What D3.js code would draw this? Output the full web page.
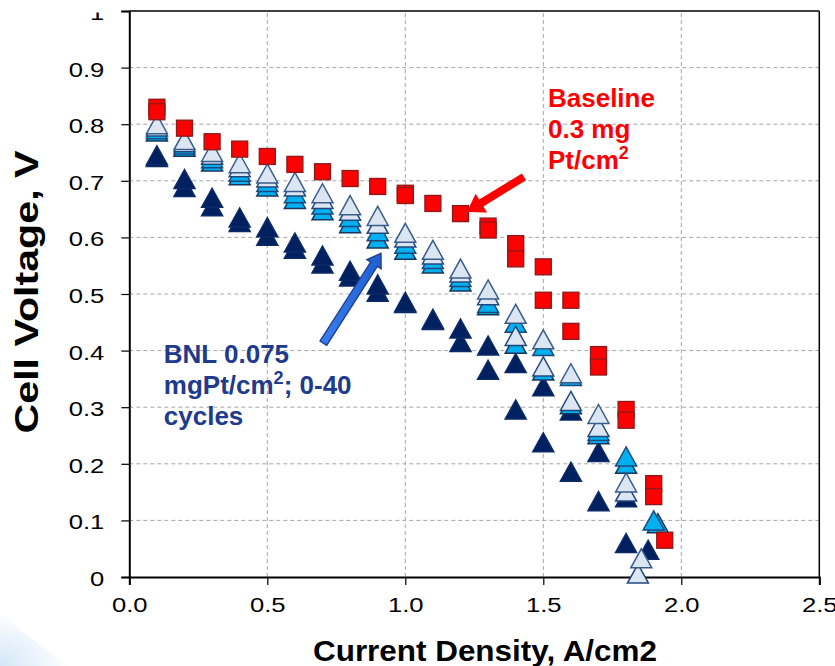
<!DOCTYPE html>
<html><head><meta charset="utf-8">
<script src="https://cdn.jsdelivr.net/npm/d3@7"></script>
<style>html,body{margin:0;padding:0;background:#fff}</style>
</head><body>
<svg id="chart" width="835" height="666"></svg>
<script>
// ---- data ----
const xTicks = [0, 0.5, 1.0, 1.5, 2.0, 2.5];
const yTicks = [0, 0.1, 0.2, 0.3, 0.4, 0.5, 0.6, 0.7, 0.8, 0.9, 1];

const baselineX = [0.1,0.1,0.2,0.3,0.4,0.5,0.6,0.7,0.8,0.9,1.0,1.0,1.1,1.2,1.3,1.3,1.4,1.4,1.5,1.5,1.6,1.6,1.7,1.7,1.8,1.8,1.9,1.9,1.94];
const baselineY = [0.830,0.822,0.793,0.769,0.756,0.743,0.729,0.716,0.704,0.690,0.678,0.674,0.660,0.642,0.620,0.613,0.589,0.562,0.548,0.489,0.489,0.434,0.393,0.371,0.296,0.277,0.165,0.142,0.065];

const triX = [0.1,0.2,0.3,0.4,0.5,0.6,0.7,0.8,0.9,1.0,1.1,1.2,1.3,1.4,1.5,1.6,1.7,1.8];
const darkA  = [0.745,0.703,0.670,0.635,0.618,0.591,0.568,0.541,0.517,0.486,0.456,0.439,0.409,0.378,0.337,0.294,0.221,0.141];
const darkB  = [0.742,0.689,0.655,0.627,0.603,0.580,0.554,0.531,0.504,0.484,0.454,0.415,0.366,0.296,0.238,0.186,0.134,0.060];
const cyanB  = [0.787,0.760,0.734,0.710,0.690,0.668,0.648,0.625,0.598,0.578,0.554,0.522,0.480,0.412,0.365,0.305,0.252,0.200];
const cyanA  = [0.791,0.764,0.740,0.716,0.698,0.678,0.658,0.636,0.611,0.589,0.562,0.530,0.484,0.449,0.408,0.355,0.258,0.213];
const lightB = [0.796,0.768,0.746,0.724,0.706,0.690,0.668,0.647,0.624,0.600,0.570,0.538,0.498,0.426,0.372,0.311,0.265,0.151];
const lightA = [0.800,0.772,0.751,0.731,0.713,0.698,0.678,0.657,0.638,0.608,0.578,0.545,0.508,0.465,0.420,0.360,0.288,0.167];
// extra high-current points
const darkAEnd  = {x:1.88, y:0.048};
const cyanBEnd  = {x:1.915, y:0.095};
const cyanAEnd  = {x:1.90, y:0.100};
const lightBEnd = {x:1.843, y:0.006};
const lightAEnd = {x:1.855, y:0.033};

// ---- layout ----
const svg = d3.select("#chart");
const x = d3.scaleLinear().domain([0, 2.5]).range([129.3, 819.3]);
const y = d3.scaleLinear().domain([0, 1]).range([577, 11]);
const FONT = "'Liberation Sans', Arial, sans-serif";
const STRETCH = 1.22;

const defs = svg.append("defs");
// faint slide swoosh bottom-left
const sw = defs.append("radialGradient").attr("id","sw").attr("cx","0").attr("cy","1").attr("r","1");
sw.append("stop").attr("offset","0").attr("stop-color","#d4e6f7");
sw.append("stop").attr("offset","1").attr("stop-color","#ffffff");
svg.append("path").attr("d","M0,612 Q30,640 70,666 L0,666 Z").attr("fill","url(#sw)");
// clip for the partially hidden top tick label
defs.append("clipPath").attr("id","topclip").attr("clipPathUnits","userSpaceOnUse")
  .append("rect").attr("x",-300).attr("y",1).attr("width",300).attr("height",40);

// grid
const grid = svg.append("g").attr("stroke","#a6a6a6").attr("stroke-dasharray","4,3").attr("stroke-width",1);
grid.selectAll("line.v").data(xTicks.filter(d=>d>0 && d<2.5)).join("line")
  .attr("x1",d=>x(d)).attr("x2",d=>x(d)).attr("y1",y(0)).attr("y2",y(1));
grid.selectAll("line.h").data(yTicks.filter(d=>d>0 && d<1)).join("line")
  .attr("x1",x(0)).attr("x2",x(2.5)).attr("y1",d=>y(d)).attr("y2",d=>y(d));

// frame top/right
svg.append("line").attr("x1",x(0)).attr("x2",x(2.5)).attr("y1",y(1)).attr("y2",y(1)).attr("stroke","#000").attr("stroke-width",1.5);
svg.append("line").attr("x1",x(2.5)).attr("x2",x(2.5)).attr("y1",y(1)).attr("y2",y(0)).attr("stroke","#000").attr("stroke-width",1.5);

// axes
const yAxis = svg.append("g").attr("transform",`translate(${x(0)},0)`)
  .call(d3.axisLeft(y).tickValues(yTicks).tickSize(8).tickPadding(17)
    .tickFormat(d => (d===0||d===1) ? d3.format("d")(d) : d3.format(".1f")(d)));
const xAxis = svg.append("g").attr("transform",`translate(0,${y(0)})`)
  .call(d3.axisBottom(x).tickValues(xTicks).tickSize(8).tickPadding(10).tickFormat(d3.format(".1f")));
[yAxis, xAxis].forEach(g => {
  g.select(".domain").attr("stroke","#000").attr("stroke-width",2);
  g.selectAll(".tick line").attr("stroke","#000").attr("stroke-width",1.2);
  g.selectAll(".tick text").attr("font-family",FONT).attr("font-size",21).attr("fill","#000");
});
yAxis.selectAll(".tick text").each(function(d){
  const t = d3.select(this); const xv = +t.attr("x");
  t.attr("x", xv/STRETCH).attr("transform",`scale(${STRETCH},1)`).attr("dy","0.4em");
  if (d === 1) t.attr("clip-path","url(#topclip)");
});
xAxis.selectAll(".tick text").attr("transform",`scale(${STRETCH},1)`).attr("dy","0.8em");

// axis titles
svg.append("text").attr("x",485).attr("y",661).attr("text-anchor","middle")
  .attr("font-family",FONT).attr("font-weight","bold").attr("font-size",29)
  .attr("textLength",344).attr("lengthAdjust","spacingAndGlyphs").text("Current Density, A/cm2");
svg.append("text").attr("transform","translate(38,292) rotate(-90)").attr("text-anchor","middle")
  .attr("font-family",FONT).attr("font-weight","bold").attr("font-size",33)
  .attr("textLength",283).attr("lengthAdjust","spacingAndGlyphs").text("Cell Voltage, V");

// markers
const tri = "M0,-9.5L10.5,9.5L-10.5,9.5Z";
function triSeries(xs, ys, end, fill, stroke){
  const pts = xs.map((v,i)=>({x:v,y:ys[i]}));
  if (end) pts.push(end);
  svg.append("g").selectAll("path").data(pts).join("path")
    .attr("d",tri).attr("transform",d=>`translate(${x(d.x)},${y(d.y)})`)
    .attr("fill",fill).attr("stroke",stroke).attr("stroke-width",1.5).attr("stroke-linejoin","miter");
}
triSeries(triX, darkB, null, "#002060", "#0b2a66");
triSeries(triX, darkA, darkAEnd, "#002060", "#0b2a66");
triSeries(triX, cyanB, cyanBEnd, "#00b0f0", "#17375e");
triSeries(triX, cyanA, cyanAEnd, "#00b0f0", "#1f497d");
triSeries(triX, lightB, lightBEnd, "#dce6f2", "#1f497d");
triSeries(triX, lightA, lightAEnd, "#dce6f2", "#385d8a");

svg.append("g").selectAll("rect").data(baselineX.map((v,i)=>({x:v,y:baselineY[i]}))).join("rect")
  .attr("x",d=>x(d.x)-8).attr("y",d=>y(d.y)-8).attr("width",16).attr("height",16)
  .attr("fill","#ff0000").attr("stroke","#8b1a1a").attr("stroke-width",1.3);

// arrows
function arrow(x1,y1,x2,y2,shaftW,headW,headL){
  const dx=x2-x1, dy=y2-y1, L=Math.hypot(dx,dy), ux=dx/L, uy=dy/L, nx=-uy, ny=ux;
  const bx=x2-ux*headL, by=y2-uy*headL;
  const p=[[x1+nx*shaftW/2,y1+ny*shaftW/2],[bx+nx*shaftW/2,by+ny*shaftW/2],[bx+nx*headW/2,by+ny*headW/2],[x2,y2],
           [bx-nx*headW/2,by-ny*headW/2],[bx-nx*shaftW/2,by-ny*shaftW/2],[x1-nx*shaftW/2,y1-ny*shaftW/2]];
  return "M"+p.map(q=>q.join(",")).join("L")+"Z";
}
const redArrow = {x1:1.43, y1:0.707, x2:1.223, y2:0.645};
const blueArrow = {x1:0.703, y1:0.413, x2:0.912, y2:0.572};
svg.append("path").attr("d",arrow(x(redArrow.x1),y(redArrow.y1),x(redArrow.x2),y(redArrow.y2),8,22,17)).attr("fill","#ff0000");
const bg = defs.append("linearGradient").attr("id","bg").attr("x1","0").attr("y1","0").attr("x2","1").attr("y2","0");
bg.append("stop").attr("offset","0").attr("stop-color","#3a7df0");
bg.append("stop").attr("offset","1").attr("stop-color","#1f5fd0");
svg.append("path").attr("d",arrow(x(blueArrow.x1),y(blueArrow.y1),x(blueArrow.x2),y(blueArrow.y2),8,17,13))
  .attr("fill","url(#bg)").attr("stroke","#1f3e8c").attr("stroke-width",1.3);

// annotation texts
function label(lines, xv, yv, color){
  const t = svg.append("text").attr("font-family",FONT).attr("font-weight","bold").attr("font-size",26).attr("fill",color);
  lines.forEach((ln,i)=>{
    const ts = t.append("tspan").attr("x",x(xv)).attr("y",y(yv)+i*31);
    ln.forEach(part=>{
      if (part.sup) ts.append("tspan").attr("font-size",18).attr("dy",-10).text(part.t);
      else ts.append("tspan").attr("dy", part.after ? 10 : null).text(part.t);
    });
  });
}
label([[{t:"Baseline"}],[{t:"0.3 mg"}],[{t:"Pt/cm"},{t:"2",sup:true}]], 1.517, 0.83, "#ff0000");
label([[{t:"BNL 0.075"}],[{t:"mgPt/cm"},{t:"2",sup:true},{t:"; 0-40",after:true}],[{t:"cycles"}]], 0.125, 0.378, "#203a8c");
</script>
</body></html>
